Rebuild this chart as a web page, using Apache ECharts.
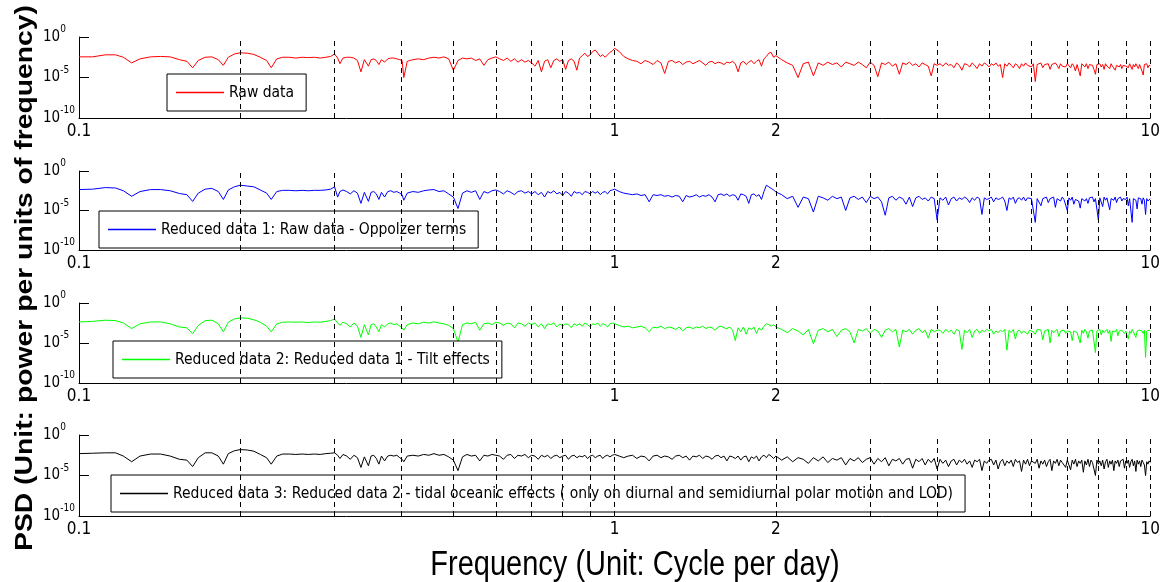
<!DOCTYPE html>
<html>
<head>
<meta charset="utf-8">
<script src="https://cdn.jsdelivr.net/npm/echarts@6.0.0/dist/echarts.min.js"></script>
<style>
  html, body { margin: 0; padding: 0; background: #fff; }
  #chart { width: 1163px; height: 582px; }
</style>
</head>
<body>
<div id="chart"></div>
<script>
// ---------------- DATA ----------------
// Frequencies (cycles per day), shared by all four spectra
const freqLow = [0.100,0.106,0.112,0.117,0.121,0.1254,0.130,0.136,0.142,0.148,0.154,0.159,0.163,0.167,0.172,0.177,0.182,0.186,0.190,0.195,
  0.200,0.206,0.212,0.218,0.224,0.2285,0.234,0.240,0.247,0.254,0.261,0.268,0.275,0.282,0.289,0.295,0.300,0.304,0.307,0.311,
  0.316,0.321,0.326,0.331,0.336,0.341,0.347,0.351,0.355,0.359,0.363,0.367,0.372,0.377,0.382,0.387,0.392,0.397,0.401,0.404];
const freqMid = [0.41,0.42,0.43,0.44,0.45,0.46,0.47,0.48,0.49,0.50,0.51,0.52,0.53,0.54,0.55,0.56,0.57,0.58,0.59,0.60,
  0.61,0.62,0.63,0.64,0.65,0.66,0.67,0.68,0.69,0.70,0.71,0.72,0.73,0.74,0.75,0.76,0.77,0.78,0.79,0.80,
  0.81,0.82,0.83,0.84,0.85,0.86,0.87,0.88,0.89,0.90,0.91,0.92,0.93,0.94,0.95,0.96,0.97,0.98,0.99,1.00];
const freqHigh1 = [1.02,1.04,1.06,1.08,1.10,1.12,1.14,1.16,1.18,1.20,1.22,1.24,1.26,1.28,1.30,1.32,1.34,1.36,1.38,1.40,
  1.42,1.44,1.46,1.48,1.50,1.52,1.54,1.56,1.58,1.60,1.62,1.64,1.66,1.68,1.70,1.72,1.74,1.76,1.78,1.80,
  1.82,1.84,1.86,1.88,1.90,1.92,1.94,1.96,1.98,2.00];
const freqHigh2 = [
  2.05,2.10,2.15,2.20,2.25,2.30,2.35,2.40,2.45,2.50,2.55,2.60,2.65,2.70,2.75,2.80,2.85,2.90,2.95,3.00,
  3.05,3.10,3.15,3.20,3.25,3.30,3.35,3.40,3.45,3.50,3.55,3.60,3.65,3.70,3.75,3.80,3.85,3.90,3.95,4.00,
  4.05,4.10,4.15,4.20,4.25,4.30,4.35,4.40,4.45,4.50,4.55,4.60,4.65,4.70,4.75,4.80,4.85,4.90,4.95,5.00,
  5.05,5.10,5.15,5.20,5.25,5.30,5.35,5.40,5.45,5.50,5.55,5.60,5.65,5.70,5.75,5.80,5.85,5.90,5.95,6.00,
  6.05,6.10,6.15,6.20,6.25,6.30,6.35,6.40,6.45,6.50,6.55,6.60,6.65,6.70,6.75,6.80,6.85,6.90,6.95,7.00,
  7.05,7.10,7.15,7.20,7.25,7.30,7.35,7.40,7.45,7.50,7.55,7.60,7.65,7.70,7.75,7.80,7.85,7.90,7.95,8.00,
  8.05,8.10,8.15,8.20,8.25,8.30,8.35,8.40,8.45,8.50,8.55,8.60,8.65,8.70,8.75,8.80,8.85,8.90,8.95,9.00,
  9.05,9.10,9.15,9.20,9.25,9.30,9.35,9.40,9.45,9.50,9.55,9.60,9.65,9.70,9.75,9.80,9.85,9.90,9.95,10.00];

// PSD values as base-10 exponents (PSD = 10^value)
const psdRaw = [
  -2.45,-2.45,-2.2,-2.2,-2.5,-3.2,-2.7,-2.45,-2.4,-2.45,-2.8,-3.0,-3.8,-2.9,-2.5,-2.45,-2.8,-3.5,-2.5,-2.1,
  -1.95,-2.0,-2.15,-2.5,-2.9,-3.8,-2.7,-2.5,-2.5,-2.6,-2.5,-2.55,-2.5,-2.6,-2.5,-2.4,-2.1,-2.6,-3.3,-2.6,
  -2.5,-2.5,-2.6,-2.9,-4.3,-2.8,-3.6,-2.8,-2.7,-2.9,-3.4,-2.8,-3.1,-2.7,-2.6,-2.6,-2.7,-2.8,-2.9,-5.0,
  -3.0,-2.8,-2.7,-2.8,-2.6,-2.5,-2.6,-2.45,-2.7,-4.1,-2.9,-2.6,-2.7,-2.6,-2.9,-2.7,-3.5,-2.8,-2.6,-2.45,
  -2.7,-2.9,-2.6,-3.0,-2.7,-3.1,-2.8,-3.1,-2.9,-3.2,-3.6,-2.9,-4.3,-3.0,-2.8,-3.8,-2.9,-2.7,-3.0,-2.8,
  -4.0,-2.9,-2.7,-3.0,-4.1,-2.6,-2.3,-2.0,-2.4,-2.2,-1.8,-1.6,-2.0,-2.4,-2.2,-2.5,-2.2,-1.9,-1.7,-1.4,
  -1.8,-2.4,-2.7,-2.9,-3.0,-3.3,-2.9,-3.1,-3.4,-2.9,-3.2,-4.5,-3.0,-2.9,-3.2,-3.0,-3.4,-3.1,-3.0,-3.3,
  -3.1,-2.9,-3.2,-3.5,-3.1,-3.0,-3.3,-3.1,-3.2,-3.4,-3.1,-3.2,-3.0,-3.3,-4.3,-3.2,-3.0,-3.4,-3.1,-2.9,
  -3.3,-3.0,-2.8,-3.6,-2.7,-2.4,-2.0,-1.9,-2.5,-2.3,
  -2.8,-3.2,-3.5,-5.0,-3.3,-3.1,-4.8,-3.2,-3.5,-3.1,-3.4,-3.2,-3.7,-3.1,-3.3,-3.5,-3.1,-3.4,-3.8,-3.1,
  -3.5,-4.9,-3.2,-3.4,-3.1,-3.6,-3.3,-4.6,-3.2,-3.4,-3.1,-3.5,-3.3,-3.7,-3.2,-3.4,-3.6,-4.8,-3.3,-3.5,
  -3.3,-3.6,-3.2,-3.5,-3.4,-3.8,-3.2,-3.5,-4.1,-3.3,-3.4,-3.7,-3.2,-3.5,-3.9,-3.3,-3.6,-3.2,-3.4,-3.7,
  -3.3,-3.5,-3.2,-3.6,-3.4,-5.0,-3.3,-3.6,-3.2,-3.5,-3.8,-3.3,-3.5,-3.9,-3.3,-3.6,-3.2,-3.5,-3.4,-3.7,
  -3.3,-5.5,-3.4,-3.6,-3.2,-3.8,-3.4,-3.5,-3.3,-4.0,-3.4,-3.6,-3.2,-3.5,-3.9,-3.3,-3.6,-3.4,-3.7,-3.3,
  -3.5,-3.8,-3.3,-3.6,-4.2,-3.4,-3.6,-4.8,-3.3,-3.5,-3.7,-3.3,-3.9,-3.4,-3.6,-3.5,-4.0,-4.6,-3.4,-3.5,
  -3.3,-3.7,-3.4,-4.0,-3.3,-3.6,-3.5,-3.9,-3.3,-3.6,-3.4,-4.1,-3.5,-3.3,-3.7,-3.4,-3.9,-3.5,-3.3,-3.6,
  -3.4,-3.8,-3.3,-3.5,-4.0,-3.4,-3.7,-3.3,-3.6,-3.9,-3.4,-3.5,-4.2,-4.7,-3.4,-3.6,-3.3,-3.8,-3.5,-3.5];

const psdReduced1 = [
  -2.35,-2.3,-2.1,-2.15,-2.5,-3.2,-2.6,-2.35,-2.35,-2.5,-2.85,-3.0,-3.85,-2.8,-2.3,-2.2,-2.6,-3.6,-2.4,-2.0,
  -1.8,-1.9,-2.0,-2.4,-2.8,-3.6,-2.6,-2.45,-2.45,-2.5,-2.45,-2.5,-2.45,-2.45,-2.4,-2.3,-2.0,-3.3,-2.6,-2.4,
  -2.6,-2.9,-2.5,-2.8,-4.1,-2.7,-3.85,-2.7,-2.6,-2.9,-3.6,-2.7,-3.3,-2.6,-2.5,-2.7,-2.6,-2.8,-3.0,-3.7,
  -2.8,-2.6,-2.7,-2.5,-2.4,-2.35,-2.6,-2.5,-2.9,-3.3,-4.75,-2.8,-2.5,-2.7,-2.5,-3.6,-2.6,-2.8,-2.5,-2.4,
  -2.6,-2.9,-2.5,-2.7,-3.0,-2.6,-2.5,-2.8,-2.6,-2.9,-2.6,-3.0,-2.7,-3.3,-2.6,-2.8,-2.5,-2.9,-2.7,-3.1,
  -2.6,-2.8,-3.2,-2.6,-2.8,-2.7,-3.0,-2.6,-2.7,-2.9,-2.6,-2.8,-2.6,-3.0,-2.7,-2.6,-2.9,-2.5,-2.4,-2.3,
  -2.6,-2.8,-2.9,-3.0,-2.9,-3.1,-3.0,-3.9,-3.0,-3.1,-3.0,-3.2,-3.1,-3.3,-3.1,-3.2,-3.9,-3.1,-3.3,-3.2,
  -3.0,-3.3,-3.1,-3.2,-3.0,-3.3,-3.9,-3.0,-2.9,-3.1,-2.9,-3.2,-3.0,-3.1,-3.7,-2.9,-3.0,-3.2,-4.1,-3.0,
  -2.9,-3.2,-3.0,-3.6,-2.6,-1.8,-2.0,-2.2,-2.4,-2.65,
  -3.0,-3.5,-3.2,-4.6,-3.3,-3.5,-5.2,-3.2,-3.4,-3.7,-3.2,-3.5,-3.3,-5.0,-3.4,-3.2,-3.6,-3.3,-4.0,-3.2,
  -3.5,-3.3,-3.9,-5.6,-3.4,-3.2,-3.7,-3.3,-3.5,-4.2,-3.3,-4.5,-3.4,-3.2,-3.6,-3.4,-3.8,-3.3,-3.5,-6.2,
  -3.4,-3.7,-3.3,-4.3,-3.5,-3.3,-3.8,-3.4,-3.6,-3.3,-3.5,-4.0,-3.4,-3.7,-3.3,-3.5,-5.5,-3.4,-3.6,-3.5,
  -3.3,-3.9,-3.4,-3.6,-3.5,-3.3,-3.8,-5.0,-3.4,-3.6,-3.3,-4.1,-3.5,-3.4,-3.7,-3.3,-3.8,-3.4,-3.6,-3.5,
  -3.4,-6.5,-3.5,-3.3,-4.4,-3.5,-3.7,-3.3,-4.0,-3.5,-3.7,-3.3,-4.6,-3.5,-3.4,-3.8,-3.3,-3.6,-3.4,-5.0,
  -3.4,-3.7,-3.3,-4.2,-3.6,-3.4,-3.8,-4.7,-3.5,-3.3,-3.8,-3.5,-4.1,-3.4,-3.6,-3.3,-3.9,-3.5,-3.7,-6.2,
  -3.4,-3.6,-4.5,-3.3,-3.7,-3.4,-3.5,-4.9,-3.5,-3.4,-3.7,-3.3,-4.0,-3.5,-3.6,-3.3,-3.8,-3.5,-3.4,-3.6,
  -3.3,-4.4,-3.5,-3.7,-6.5,-3.5,-3.4,-3.7,-4.8,-3.4,-3.6,-3.5,-4.2,-3.4,-3.7,-5.5,-3.5,-3.8,-3.6,-3.5];

const psdReduced2 = [
  -2.37,-2.3,-2.15,-2.2,-2.5,-3.2,-2.6,-2.37,-2.37,-2.6,-3.0,-3.1,-3.84,-2.8,-2.2,-2.15,-2.6,-3.6,-2.4,-2.0,
  -1.86,-1.9,-2.1,-2.4,-2.9,-3.6,-2.6,-2.4,-2.37,-2.4,-2.37,-2.45,-2.37,-2.4,-2.3,-2.2,-2.0,-2.5,-2.8,-2.4,
  -2.6,-3.0,-2.5,-2.9,-4.3,-2.7,-4.0,-2.7,-2.6,-3.0,-3.6,-2.7,-3.0,-2.6,-2.5,-2.7,-2.6,-2.9,-3.1,-3.4,
  -2.7,-2.5,-2.6,-2.4,-2.5,-2.35,-2.5,-2.6,-2.8,-3.2,-4.9,-2.7,-2.5,-2.6,-2.4,-3.4,-2.6,-2.5,-2.7,-2.4,
  -2.5,-2.8,-2.5,-2.6,-3.1,-2.5,-2.6,-2.9,-2.5,-2.7,-2.5,-3.0,-2.6,-3.2,-2.6,-2.7,-2.5,-3.0,-2.6,-2.9,
  -2.6,-2.7,-3.1,-2.6,-2.8,-2.6,-2.9,-2.5,-2.7,-3.0,-2.6,-2.7,-2.5,-2.9,-2.6,-2.7,-3.0,-2.6,-2.5,-2.6,
  -2.8,-3.0,-2.9,-3.1,-3.0,-2.9,-3.1,-3.6,-3.0,-3.1,-2.9,-3.2,-3.0,-3.1,-3.3,-3.0,-3.5,-3.1,-3.0,-3.2,
  -3.0,-3.1,-2.9,-3.2,-3.0,-3.1,-3.4,-3.0,-2.9,-3.1,-3.2,-3.0,-3.4,-4.7,-3.1,-3.6,-3.0,-3.9,-3.1,-3.3,
  -3.0,-3.8,-3.1,-3.4,-2.9,-2.6,-2.7,-2.9,-2.7,-3.0,
  -3.3,-3.7,-3.2,-3.5,-4.0,-3.3,-5.1,-3.4,-3.2,-3.6,-3.3,-4.2,-3.4,-3.2,-3.6,-5.0,-3.3,-3.5,-3.2,-3.8,
  -3.3,-3.5,-4.3,-3.4,-3.2,-3.6,-3.3,-5.5,-3.4,-3.6,-3.3,-3.9,-3.4,-3.2,-3.7,-3.4,-4.4,-3.3,-3.6,-3.4,
  -3.4,-3.8,-3.3,-3.6,-3.4,-3.9,-3.3,-3.5,-5.8,-3.4,-3.7,-3.3,-4.3,-3.5,-3.3,-3.8,-3.4,-3.6,-3.3,-3.5,
  -3.3,-3.9,-3.5,-3.7,-3.4,-3.6,-3.3,-5.9,-3.4,-3.7,-3.3,-4.5,-3.5,-3.4,-3.8,-3.5,-3.3,-3.9,-3.4,-3.5,
  -3.6,-3.9,-3.3,-3.5,-3.4,-4.6,-3.5,-3.7,-3.3,-5.0,-3.4,-3.7,-3.5,-3.3,-4.2,-3.5,-3.6,-3.4,-3.8,-3.5,
  -3.4,-3.6,-4.7,-3.5,-3.3,-3.7,-3.5,-5.0,-3.4,-3.8,-3.3,-3.6,-4.4,-3.5,-3.7,-3.4,-3.6,-6.2,-3.5,-3.4,
  -3.3,-4.0,-3.4,-3.7,-3.5,-3.3,-3.8,-3.4,-4.8,-3.5,-3.4,-3.6,-3.3,-4.1,-3.5,-3.7,-3.4,-3.3,-3.8,-3.5,
  -3.4,-4.5,-3.5,-3.8,-3.3,-3.6,-3.4,-4.3,-3.5,-3.7,-3.4,-3.6,-3.5,-3.8,-3.4,-6.8,-3.5,-3.6,-3.4,-3.5];

const psdReduced3 = [
  -2.3,-2.25,-2.2,-2.2,-2.6,-3.3,-2.6,-2.35,-2.35,-2.6,-3.0,-3.1,-3.9,-2.8,-2.2,-2.2,-2.6,-3.6,-2.3,-1.95,
  -1.8,-1.85,-2.0,-2.4,-2.8,-3.6,-2.6,-2.35,-2.35,-2.4,-2.35,-2.4,-2.35,-2.4,-2.3,-2.25,-2.2,-2.5,-2.9,-2.4,
  -2.6,-3.0,-2.5,-2.8,-4.0,-2.7,-3.8,-2.6,-2.5,-2.9,-3.6,-2.6,-3.2,-2.6,-2.5,-2.6,-2.5,-2.8,-3.0,-3.3,
  -2.6,-2.5,-2.6,-2.4,-2.5,-2.3,-2.5,-2.4,-2.7,-3.1,-4.4,-2.7,-2.4,-2.6,-2.5,-3.2,-2.5,-2.6,-2.4,-2.5,
  -2.6,-3.0,-2.5,-2.4,-2.9,-2.5,-2.6,-2.4,-2.8,-2.5,-2.6,-3.0,-2.5,-2.7,-2.5,-2.9,-2.6,-2.5,-2.8,-2.6,
  -2.5,-3.0,-2.6,-2.5,-2.8,-2.6,-2.7,-2.5,-2.9,-2.6,-2.5,-2.8,-2.6,-2.5,-2.9,-2.6,-2.5,-2.7,-2.5,-2.4,
  -2.6,-2.8,-2.6,-2.5,-2.9,-2.6,-2.7,-3.2,-2.6,-2.5,-2.8,-2.6,-2.7,-3.0,-2.6,-2.5,-2.8,-2.6,-3.1,-2.6,
  -2.7,-2.5,-2.9,-2.6,-2.7,-3.0,-2.6,-2.5,-2.8,-2.6,-3.2,-2.6,-2.7,-2.9,-2.6,-3.1,-2.7,-2.6,-3.3,-2.7,
  -2.9,-2.6,-3.2,-2.7,-2.5,-2.8,-2.4,-2.6,-2.9,-2.6,
  -3.1,-2.7,-3.3,-2.8,-3.0,-3.5,-2.8,-3.2,-2.7,-3.4,-2.9,-3.1,-2.8,-3.7,-2.9,-3.2,-2.8,-3.4,-3.0,-2.8,
  -3.6,-2.9,-3.3,-2.8,-3.8,-3.0,-3.2,-2.9,-3.6,-3.0,-2.9,-4.1,-3.0,-3.3,-2.9,-3.7,-3.0,-3.4,-2.9,-4.2,
  -3.0,-3.5,-3.1,-3.9,-3.2,-3.0,-3.7,-3.1,-3.4,-3.0,-3.6,-3.2,-4.0,-3.1,-3.3,-3.0,-4.4,-3.2,-3.5,-3.1,
  -3.0,-3.7,-3.1,-4.2,-3.3,-3.0,-3.8,-3.2,-3.5,-3.1,-3.9,-3.0,-3.4,-3.2,-4.5,-3.1,-3.6,-3.0,-3.8,-3.2,
  -3.1,-3.5,-3.0,-4.1,-3.2,-3.6,-3.1,-3.9,-3.3,-3.0,-4.4,-3.2,-3.5,-3.0,-3.8,-3.1,-3.4,-3.2,-4.0,-3.1,
  -3.3,-4.3,-3.1,-3.6,-3.0,-3.9,-3.2,-3.5,-3.1,-4.6,-3.2,-3.7,-3.0,-3.9,-3.1,-3.4,-3.2,-5.0,-3.1,-3.6,
  -3.2,-3.8,-3.1,-4.2,-3.3,-3.0,-4.0,-3.2,-3.6,-3.1,-4.4,-3.2,-3.5,-3.1,-3.9,-3.2,-3.4,-3.0,-4.1,-3.2,
  -3.5,-3.1,-4.0,-3.3,-3.0,-3.8,-3.2,-4.5,-3.1,-3.6,-3.2,-3.9,-3.1,-3.4,-3.7,-5.0,-3.3,-3.6,-3.2,-3.4];

const seriesNames = [
  'Raw data',
  'Reduced data 1: Raw data - Oppolzer terms',
  'Reduced data 2: Reduced data 1 - Tilt effects',
  'Reduced data 3: Reduced data 2 - tidal oceanic effects ( only on diurnal and semidiurnal polar motion and LOD)'
];
const seriesColors = ['#ff0000', '#0000ff', '#00ff00', '#000000'];
const xTickFreqs = [0.1,0.2,0.3,0.4,0.5,0.6,0.7,0.8,0.9,1,2,3,4,5,6,7,8,9,10];
const xLabelFreqs = [0.1, 1, 2, 10];
const gridFreqs = [0.2,0.3,0.4,0.5,0.6,0.7,0.8,0.9,1,2,3,4,5,6,7,8,9,10];
const yTitle = 'PSD (Unit: power per units of frequency)';
const xTitle = 'Frequency (Unit: Cycle per day)';

// ---------------- BUILD ----------------
const freq = [].concat(freqLow, freqMid, freqHigh1, freqHigh2);
const allPsd = [psdRaw, psdReduced1, psdReduced2, psdReduced3];
allPsd.forEach((a, i) => { if (a.length !== freq.length) throw new Error('length mismatch series ' + i + ': ' + a.length + ' vs ' + freq.length); });

const FN = "'Liberation Sans Narrow','Arial Narrow','DejaVu Sans Condensed',sans-serif";
const layout = [
  { top: 37,  height: 81, legendLeft: 167, legendTop: 74 },
  { top: 171, height: 79, legendLeft: 99,  legendTop: 211 },
  { top: 303, height: 80, legendLeft: 113, legendTop: 341 },
  { top: 435, height: 81, legendLeft: 111, legendTop: 475 }
];

const chart = echarts.init(document.getElementById('chart'), null, { renderer: 'canvas' });

const option = {
  animation: false,
  backgroundColor: '#ffffff',
  grid: layout.map(l => ({ left: 79, right: 8, top: l.top, height: l.height })),
  xAxis: layout.map((l, i) => ({
    type: 'log', logBase: 10, gridIndex: i, min: 0.1, max: 10,
    axisLine: { show: true, lineStyle: { color: '#000', width: 1 } },
    axisTick: { show: true, inside: true, length: 5, lineStyle: { color: '#000', width: 1 }, customValues: xTickFreqs },
    axisLabel: {
      show: true, customValues: xLabelFreqs, color: '#000', fontFamily: FN, fontSize: 17, margin: 5,
      hideOverlap: false, showMinLabel: true, showMaxLabel: true,
      formatter: v => String(+Number(v).toPrecision(3))
    },
    splitLine: { show: false }, minorTick: { show: false }, minorSplitLine: { show: false }
  })),
  yAxis: layout.map((l, i) => ({
    type: 'log', logBase: 10, gridIndex: i, min: 1e-10, max: 1, interval: 5,
    axisLine: { show: true, lineStyle: { color: '#000', width: 1 } },
    axisTick: { show: true, inside: true, length: 10, lineStyle: { color: '#000', width: 1 } },
    axisLabel: {
      show: true, align: 'left', margin: 36, color: '#000', showMinLabel: true, showMaxLabel: true,
      formatter: v => '{b|10}{s|' + Math.round(Math.log10(v)) + '}',
      rich: {
        b: { fontFamily: FN, fontSize: 15, color: '#000', padding: [5, 0, 5, 0] },
        s: { fontFamily: FN, fontSize: 10, color: '#000', lineHeight: 10, verticalAlign: 'top' }
      }
    },
    splitLine: { show: false }
  })),
  legend: layout.map((l, i) => ({
    data: [seriesNames[i]], left: l.legendLeft, top: l.legendTop, orient: 'horizontal',
    backgroundColor: '#ffffff', borderColor: '#000', borderWidth: 1, borderRadius: 0,
    padding: [9, 12, 9, 9], icon: 'rect', itemWidth: 48, itemHeight: 1.5, selectedMode: false,
    textStyle: { fontFamily: FN, fontSize: 15.5, color: '#000', lineHeight: 19 }
  })),
  series: allPsd.map((exps, i) => ({
    name: seriesNames[i], type: 'line', xAxisIndex: i, yAxisIndex: i,
    data: freq.map((f, k) => [f, Math.pow(10, exps[k])]),
    symbol: 'none', showSymbol: false,
    lineStyle: { width: 1, color: seriesColors[i] }, itemStyle: { color: seriesColors[i] },
    emphasis: { disabled: true },
    markLine: {
      silent: true, symbol: ['none', 'none'], animation: false,
      label: { show: false },
      lineStyle: { color: '#000', type: [5, 4], width: 1 },
      emphasis: { disabled: true },
      data: gridFreqs.map(v => ({ xAxis: v }))
    }
  })),
  graphic: [
    { type: 'text', x: 25, y: 278, rotation: Math.PI / 2, scaleX: 1.18,
      style: { text: yTitle, font: "bold 24px 'Liberation Sans', Arial, sans-serif", fill: '#000',
               textAlign: 'center', textVerticalAlign: 'middle', align: 'center', verticalAlign: 'middle' } },
    { type: 'text', x: 635, y: 565, scaleY: 1.2,
      style: { text: xTitle, font: "29px 'Liberation Sans', Arial, sans-serif", fill: '#000',
               textAlign: 'center', textVerticalAlign: 'middle', align: 'center', verticalAlign: 'middle' } }
  ]
};
chart.setOption(option);
</script>
</body>
</html>
